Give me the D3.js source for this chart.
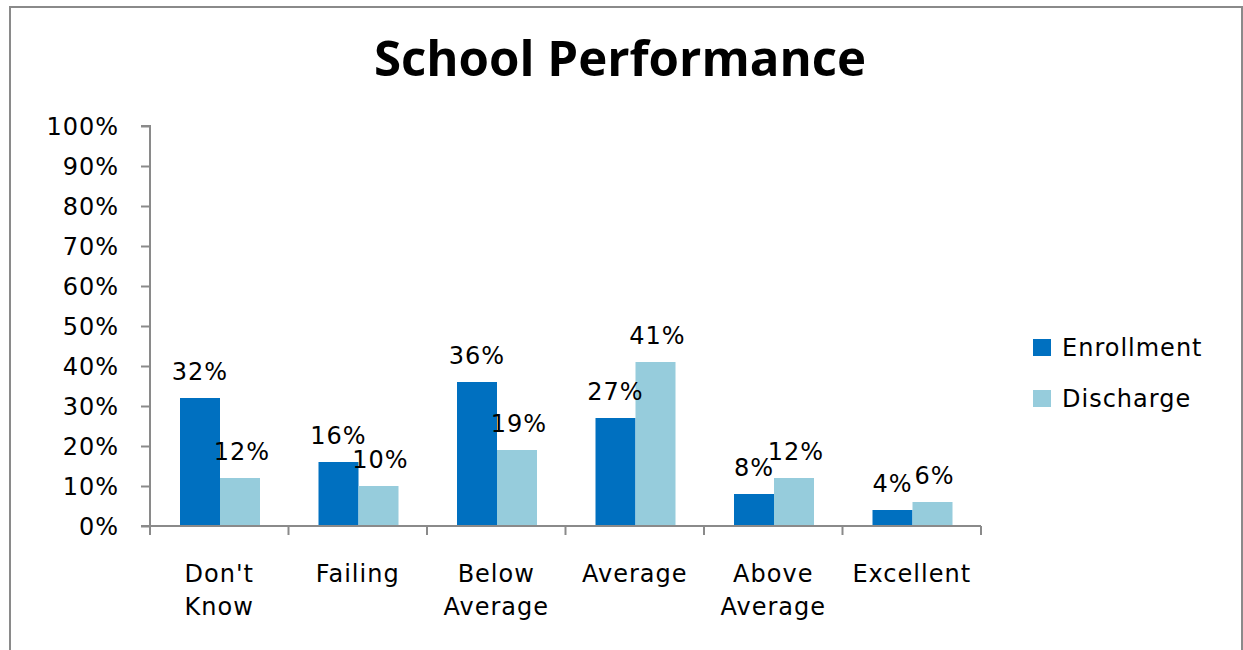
<!DOCTYPE html>
<html>
<head>
<meta charset="utf-8">
<script src="https://cdn.jsdelivr.net/npm/d3@7"></script>
<style>
  html, body { margin: 0; padding: 0; background: #fff; }
  svg { display: block; }
</style>
</head>
<body>
<script>
const categories = ["Don't Know", "Failing", "Below Average", "Average", "Above Average", "Excellent"];
const categoryLines = [["Don't", "Know"], ["Failing"], ["Below", "Average"], ["Average"], ["Above", "Average"], ["Excellent"]];
const seriesNames = ["Enrollment", "Discharge"];
const enrollment = [0.32, 0.16, 0.36, 0.27, 0.08, 0.04];
const discharge = [0.12, 0.10, 0.19, 0.41, 0.12, 0.06];
const yTicks = [0, 0.1, 0.2, 0.3, 0.4, 0.5, 0.6, 0.7, 0.8, 0.9, 1.0];
const colors = ["#0070C0", "#96CCDC"];
const titleText = "School Performance";

const W = 1243, H = 650;
const svg = d3.select("body").append("svg").attr("width", W).attr("height", H);

// outer frame
svg.append("path")
  .attr("d", `M10,${H + 5} L10,7 L1242,7 L1242,${H + 5}`)
  .attr("fill", "none").attr("stroke", "#8a8a8a").attr("stroke-width", 2);

const fontFam = "'DejaVu Sans', Verdana, sans-serif";
const fs = "24px", ls = "1px";
const axisColor = "#8a8a8a";

const x0 = d3.scaleBand().domain(categories).range([150, 981]).paddingInner(0).paddingOuter(0);
const y = d3.scaleLinear().domain([0, 1]).range([526, 126]);

const data = categories.map((c, i) => ({ cat: c, values: [enrollment[i], discharge[i]] }));

// bars
const groupOffset = 30, barW = 40;
const x1 = d3.scaleBand().domain(seriesNames).range([0, barW * 2]).padding(0);

const g = svg.append("g");
const groups = g.selectAll("g.cat").data(data).join("g")
  .attr("transform", d => `translate(${x0(d.cat) + groupOffset},0)`);

groups.selectAll("rect").data(d => d.values.map((v, j) => ({ s: seriesNames[j], v, j }))).join("rect")
  .attr("x", d => x1(d.s))
  .attr("y", d => y(d.v))
  .attr("width", x1.bandwidth())
  .attr("height", d => y(0) - y(d.v))
  .attr("fill", d => colors[d.j]);

groups.selectAll("text.val").data(d => d.values.map((v, j) => ({ s: seriesNames[j], v, j }))).join("text")
  .attr("class", "val")
  .attr("x", d => x1(d.s) + x1.bandwidth() / 2 + (d.j === 1 ? 2 : 0))
  .attr("y", d => y(d.v) - 18)
  .attr("text-anchor", "middle")
  .style("font-family", fontFam).style("font-size", fs).style("letter-spacing", ls)
  .attr("fill", "#000")
  .text(d => d3.format(".0%")(d.v));

// y axis
const yAxis = d3.axisLeft(y).tickValues(yTicks).tickFormat(d3.format(".0%")).tickSize(9).tickPadding(22);
const ya = svg.append("g").attr("transform", "translate(150,0)").call(yAxis);
ya.select(".domain").attr("stroke", axisColor).attr("stroke-width", 2).attr("d", "M-9,126H0V526H-9");
ya.selectAll(".tick line").attr("stroke", axisColor).attr("stroke-width", 2);
ya.selectAll(".tick text").style("font-family", fontFam).style("font-size", fs)
  .style("letter-spacing", ls).attr("fill", "#000").attr("dy", "0.36em");

// x axis
const xa = svg.append("g").attr("transform", "translate(0,526)");
xa.append("line").attr("x1", 149).attr("x2", x0.range()[1]).attr("y1", 0).attr("y2", 0)
  .attr("stroke", axisColor).attr("stroke-width", 2);
const bounds = categories.map(c => x0(c)).concat([x0.range()[1]]);
xa.selectAll("line.tk").data(bounds).join("line").attr("class", "tk")
  .attr("x1", d => d).attr("x2", d => d).attr("y1", 0).attr("y2", 9)
  .attr("stroke", axisColor).attr("stroke-width", 2);
const xl = xa.selectAll("text.cat").data(categories).join("text").attr("class", "cat")
  .attr("text-anchor", "middle")
  .style("font-family", fontFam).style("font-size", fs).style("letter-spacing", ls)
  .attr("fill", "#000");
xl.each(function (c, i) {
  const t = d3.select(this);
  categoryLines[i].forEach((line, k) => {
    t.append("tspan").attr("x", x0(c) + x0.bandwidth() / 2).attr("y", 56 + k * 33).text(line);
  });
});

// legend
const leg = svg.append("g").attr("transform", "translate(1033,339)");
seriesNames.forEach((s, i) => {
  const row = leg.append("g").attr("transform", `translate(0,${i * 51})`);
  row.append("rect").attr("width", 18).attr("height", 17).attr("fill", colors[i]);
  row.append("text").attr("x", 29).attr("y", 17)
    .style("font-family", fontFam).style("font-size", fs).style("letter-spacing", ls)
    .attr("fill", "#000").text(s);
});

// title: fit width to reference
const title = svg.append("text").attr("x", 620).attr("y", 76).attr("text-anchor", "middle")
  .style("font-family", "'Open Sans', 'DejaVu Sans', sans-serif").style("font-weight", "bold")
  .style("font-size", "44px").attr("fill", "#000").text(titleText);
const tw = title.node().getComputedTextLength();
const target = 492;
title.style("font-size", (44 * target / tw).toFixed(1) + "px");
</script>
</body>
</html>
